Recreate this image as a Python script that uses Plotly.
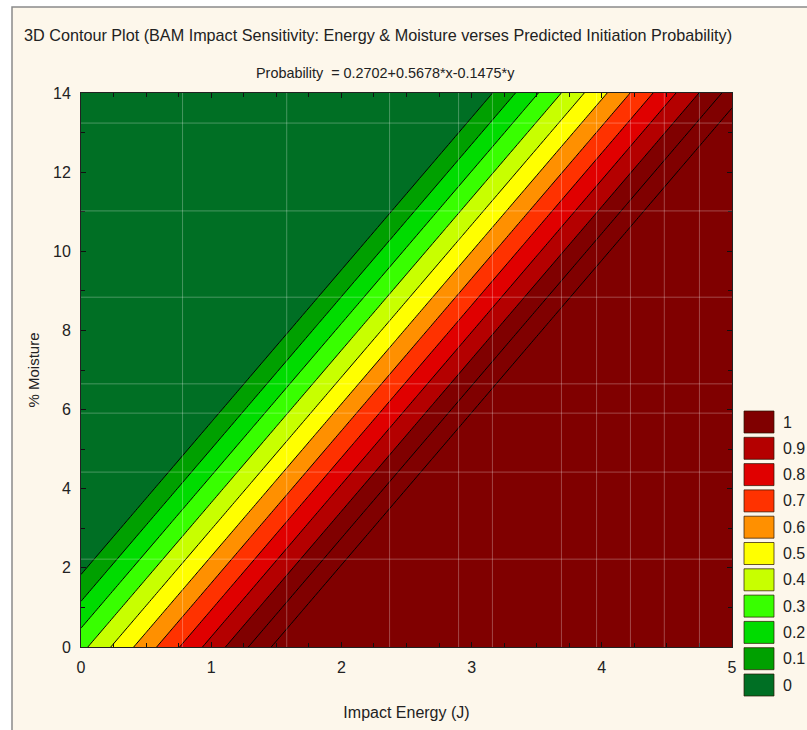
import numpy as np
import plotly.graph_objects as go

# ---- data (from the chart's stated fit: Probability = b0 + b1*x + b2*y) ----
coef_intercept = 0.2702
coef_energy = 0.5678
coef_moisture = -0.1475
energy_grid = np.linspace(0, 5, 51)        # Impact Energy (J)
moisture_grid = np.linspace(0, 14, 141)    # % Moisture
level_start, level_end, level_step = 0.0, 1.1, 0.1

legend_labels = ["1", "0.9", "0.8", "0.7", "0.6", "0.5", "0.4", "0.3", "0.2", "0.1", "0"]
legend_colors = ["#800000", "#b40000", "#e00000", "#ff3200", "#ff9000", "#ffff00",
                 "#c8ff00", "#38ff00", "#00dc00", "#00a000", "#006f24"]

x_ticks = [0, 1, 2, 3, 4, 5]
y_ticks = [0, 2, 4, 6, 8, 10, 12, 14]

# faint overlay grid seen in the picture (decorative)
grid_x = [0.78, 1.58, 2.37, 2.90, 3.16, 3.69, 3.96, 4.22, 4.48, 4.75]
grid_y = [13.24, 11.02, 8.84, 6.65, 5.91, 4.42, 2.22]

# ---- build surface ----
X, Y = np.meshgrid(energy_grid, moisture_grid)
Z = coef_intercept + coef_energy * X + coef_moisture * Y

# band colours: below 0, 0-0.1, ..., 0.9-1.0, 1.0-1.1, above 1.1
band_colors = list(reversed(legend_colors)) + ["#800000", "#800000"]
n = len(band_colors)  # 13
colorscale = []
for k, c in enumerate(band_colors):
    lo = max(0.0, (k - 0.5) / (n - 1))
    hi = min(1.0, (k + 0.5) / (n - 1))
    colorscale.append([lo, c])
    colorscale.append([hi, c])

fig = go.Figure()
fig.add_trace(go.Contour(
    x=energy_grid, y=moisture_grid, z=Z,
    colorscale=colorscale, showscale=False,
    contours=dict(start=level_start, end=level_end, size=level_step,
                  coloring="fill", showlines=True),
    line=dict(color="black", width=1),
    hoverinfo="skip",
))

W, H = 807, 730
L, R, T, B = 81, 75, 93, 83
pw, ph = W - L - R, H - T - B

def px2paper(px, py):
    return (px - L) / pw, (H - B - py) / ph

FONT = "Liberation Sans, Arial"
shapes = []
# outer frame (cream panel with grey border)
x0, y0 = px2paper(12, 7)
x1, y1 = px2paper(807 + 30, 730 + 30)
shapes.append(dict(type="rect", xref="paper", yref="paper", x0=x0, y0=y1, x1=x1, y1=y0,
                   fillcolor="#fdf7eb", line=dict(color="#8a8a8a", width=1.5), layer="below"))
for gx in grid_x:
    shapes.append(dict(type="line", xref="x", yref="paper", x0=gx, x1=gx, y0=0, y1=1,
                       line=dict(color="rgba(255,255,255,0.28)", width=1), layer="above"))
for gy in grid_y:
    shapes.append(dict(type="line", xref="paper", yref="y", x0=0, x1=1, y0=gy, y1=gy,
                       line=dict(color="rgba(255,255,255,0.28)", width=1), layer="above"))

annotations = []
# legend boxes
for i, (lab, col) in enumerate(zip(legend_labels, legend_colors)):
    top = 411 + i * 26.3
    bx0, by0 = px2paper(744, top)
    bx1, by1 = px2paper(774, top + 22)
    shapes.append(dict(type="rect", xref="paper", yref="paper", x0=bx0, x1=bx1, y0=by1, y1=by0,
                       fillcolor=col, line=dict(color="rgba(40,20,0,0.7)", width=1)))
    ax, ay = px2paper(781, top + 11)
    annotations.append(dict(text=lab, xref="paper", yref="paper", x=ax, y=ay,
                            xanchor="left", yanchor="middle", showarrow=False,
                            font=dict(size=16, color="#222", family=FONT)))

# title and subtitle
tx, ty = px2paper(22, 35)
annotations.append(dict(text="3D Contour Plot (BAM Impact Sensitivity: Energy & Moisture verses Predicted Initiation Probability)",
                        xref="paper", yref="paper", x=tx, y=ty, xanchor="left", yanchor="middle",
                        showarrow=False, font=dict(size=16.2, color="#222", family=FONT)))
sx, sy = px2paper(385, 73)
annotations.append(dict(text="Probability  = 0.2702+0.5678*x-0.1475*y",
                        xref="paper", yref="paper", x=sx, y=sy, xanchor="center", yanchor="middle",
                        showarrow=False, font=dict(size=14.4, color="#222", family=FONT)))

axis_font = dict(size=16, color="#222", family=FONT)
fig.update_layout(
    width=W, height=H,
    margin=dict(l=L, r=R, t=T, b=B, autoexpand=False),
    paper_bgcolor="white", plot_bgcolor="rgba(0,0,0,0)",
    showlegend=False,
    shapes=shapes, annotations=annotations,
    font=axis_font,
    xaxis=dict(range=[0, 5], tickvals=x_ticks, ticks="inside", ticklen=5, tickcolor="#111",
               minor=dict(dtick=0.25, ticks="inside", ticklen=4, tickcolor="#111"),
               showgrid=False, zeroline=False, showline=True, linecolor="#222", linewidth=1,
               mirror="allticks", tickfont=axis_font, ticklabelstandoff=6, automargin=False,
               title=dict(text="Impact Energy (J)", font=axis_font, standoff=31)),
    yaxis=dict(range=[0, 14], tickvals=y_ticks, ticks="inside", ticklen=5, tickcolor="#111",
               minor=dict(dtick=1, ticks="inside", ticklen=4, tickcolor="#111"),
               showgrid=False, zeroline=False, showline=True, linecolor="#222", linewidth=1,
               mirror="allticks", tickfont=axis_font, ticklabelstandoff=6, automargin=False,
               title=dict(text="% Moisture", font=dict(size=15, color="#222", family=FONT),
                          standoff=9)),
)

fig.write_html(
    "out.html",
    config={"displayModeBar": False},
    post_script="document.body.style.margin='0';document.body.style.overflow='hidden';",
)
